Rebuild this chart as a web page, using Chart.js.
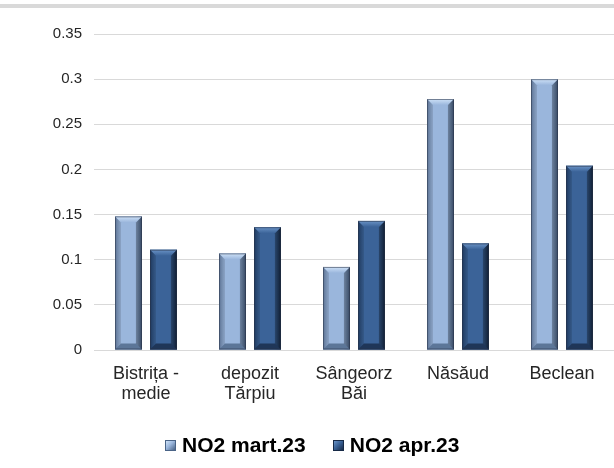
<!DOCTYPE html>
<html><head><meta charset="utf-8">
<script src="https://cdn.jsdelivr.net/npm/chart.js@4/dist/chart.umd.min.js"></script>
<style>
html,body{margin:0;padding:0;background:#fff;}
#wrap{position:relative;width:614px;height:468px;overflow:hidden;}
#topline{position:absolute;left:0;top:4px;width:614px;height:4px;background:#d9d9d9;}
canvas{position:absolute;left:0;top:0;}
#legend{position:absolute;left:165px;top:432px;height:26px;display:flex;align-items:center;
  font-family:'Liberation Sans',Arial,sans-serif;font-weight:bold;font-size:21px;color:#000;white-space:nowrap;}
.item{display:flex;align-items:center;}
.item + .item{margin-left:27px;}
.box{width:11px;height:11px;margin-right:6px;box-sizing:border-box;}
</style></head>
<body>
<div id="wrap"><canvas id="c" width="614" height="468"></canvas><div id="topline"></div><div id="legend"></div></div>
<script>
const categories = [["Bistrița -","medie"],["depozit","Tărpiu"],["Sângeorz","Băi"],"Năsăud","Beclean"];
const seriesNames = ["NO2 mart.23","NO2 apr.23"];
const mart23 = [0.148,0.107,0.092,0.278,0.300];
const apr23 = [0.111,0.136,0.143,0.118,0.204];
const yTicks = [0,0.05,0.1,0.15,0.2,0.25,0.3,0.35];

const palettes = [
  {left:'#6d88ad', mid:'#9ab6dc', right:'#4a6487', top:'#cfe2f8', bottom:'#5c7698'},
  {left:'#25436d', mid:'#3b6398', right:'#172a47', top:'#6a93c6', bottom:'#1f3658'}
];

const bevel = {
  id:'bevel',
  afterDatasetsDraw(chart){
    const ctx = chart.ctx;
    chart.data.datasets.forEach((ds,di)=>{
      const meta = chart.getDatasetMeta(di);
      const p = palettes[di];
      meta.data.forEach(bar=>{
        const {x,y,base,width} = bar.getProps(['x','y','base','width'],true);
        const l = x-width/2, r = x+width/2, t = y, b = base;
        const g = ctx.createLinearGradient(l,0,r,0);
        g.addColorStop(0,p.left); g.addColorStop(0.2,p.mid);
        g.addColorStop(0.75,p.mid); g.addColorStop(1,p.right);
        ctx.save();
        ctx.fillStyle = g;
        ctx.fillRect(l,t,width,b-t);
        const bv = 6;
        const tg = ctx.createLinearGradient(0,t,0,t+bv);
        tg.addColorStop(0,p.top); tg.addColorStop(1,p.mid);
        ctx.fillStyle = tg;
        ctx.beginPath();
        ctx.moveTo(l,t); ctx.lineTo(r,t); ctx.lineTo(r-bv,t+bv); ctx.lineTo(l+bv,t+bv); ctx.closePath();
        ctx.fill();
        ctx.fillStyle = p.bottom;
        ctx.beginPath();
        ctx.moveTo(l,b); ctx.lineTo(r,b); ctx.lineTo(r-bv,b-bv); ctx.lineTo(l+bv,b-bv); ctx.closePath();
        ctx.fill();
        ctx.fillStyle = 'rgba(0,0,0,0.25)';
        ctx.beginPath();
        ctx.moveTo(r,t); ctx.lineTo(r,b); ctx.lineTo(r-bv,b-bv); ctx.lineTo(r-bv,t+bv); ctx.closePath();
        ctx.fill();
        ctx.fillStyle = 'rgba(0,0,0,0.12)';
        ctx.beginPath();
        ctx.moveTo(l,t); ctx.lineTo(l,b); ctx.lineTo(l+bv,b-bv); ctx.lineTo(l+bv,t+bv); ctx.closePath();
        ctx.fill();
        ctx.strokeStyle = 'rgba(40,50,70,0.55)';
        ctx.lineWidth = 1;
        ctx.strokeRect(l+0.5,t+0.5,width-1,b-t-1);
        ctx.restore();
      });
    });
  }
};

const chart = new Chart(document.getElementById('c'),{
  type:'bar',
  data:{
    labels:categories,
    datasets:[
      {label:seriesNames[0],data:mart23,backgroundColor:'#95b3d7',borderWidth:0,categoryPercentage:0.673,barPercentage:0.77},
      {label:seriesNames[1],data:apr23,backgroundColor:'#376092',borderWidth:0,categoryPercentage:0.673,barPercentage:0.77}
    ]
  },
  options:{
    responsive:false,
    animation:false,
    layout:{padding:{top:34,right:0,left:0,bottom:43}},
    plugins:{
      legend:{display:false},
      tooltip:{enabled:false}
    },
    scales:{
      x:{
        grid:{display:false},
        border:{display:false},
        ticks:{font:{family:'Liberation Sans, Arial',size:18,lineHeight:1.1},color:'#262626',padding:6,maxRotation:0,autoSkip:false},
        afterFit(s){s.height=75;}
      },
      y:{
        min:0,max:0.35,
        afterBuildTicks(s){s.ticks=yTicks.map(v=>({value:v}));},
        grid:{color:'#d9d9d9',lineWidth:1,drawTicks:false},
        border:{display:false},
        ticks:{font:{family:'Liberation Sans, Arial',size:15},color:'#262626',padding:12,
          callback:v=>String(v)},
        afterFit(s){s.width=94;}
      }
    }
  },
  plugins:[bevel]
});

const legendEl = document.getElementById('legend');
chart.data.datasets.forEach((d,i)=>{
  const p = palettes[i];
  const item = document.createElement('div'); item.className='item';
  const box = document.createElement('span'); box.className='box';
  box.style.background = `linear-gradient(135deg, ${p.top}, ${p.mid} 45%, ${p.right})`;
  box.style.border = `1px solid ${p.right}`;
  const txt = document.createElement('span'); txt.textContent = d.label;
  item.appendChild(box); item.appendChild(txt); legendEl.appendChild(item);
});
</script>
</body></html>
